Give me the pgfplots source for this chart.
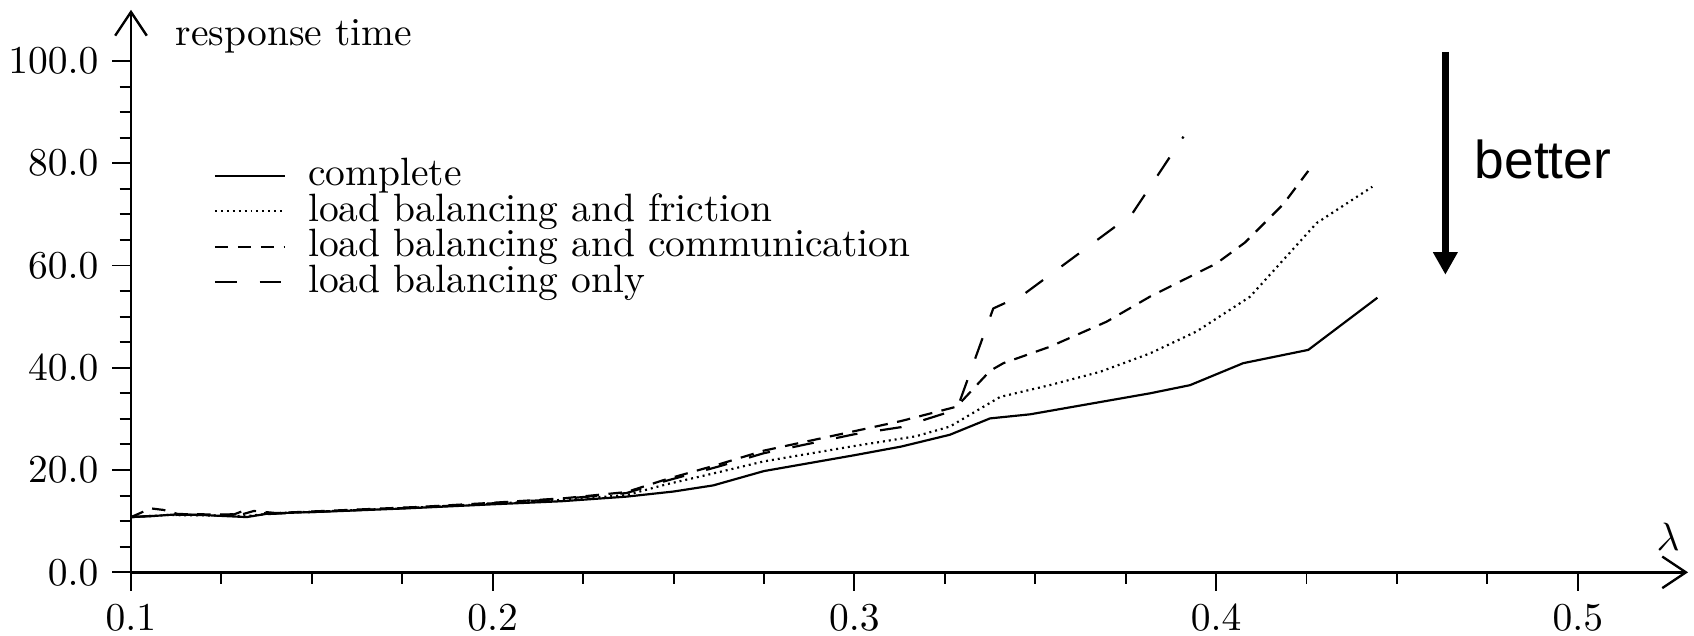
\documentclass[border=0pt]{standalone}
\usepackage{fontspec}
\usepackage{pgfplots}
\usepackage{pgfplotstable}
\pgfplotsset{compat=1.18}
\usetikzlibrary{arrows.meta}
\newfontfamily\arial{Liberation Sans}

\pgfplotstableread{
x y
0.100 10.8
0.106 11.0
0.112 11.3
0.120 11.2
0.126 11.0
0.132 10.8
0.138 11.5
0.155 11.9
0.176 12.5
0.200 13.3
0.219 13.9
0.237 14.8
0.250 15.8
0.261 17.0
0.275 19.8
0.300 22.9
0.313 24.6
0.3264 26.9
0.3375 30.1
0.3486 30.9
0.3817 35.0
0.3928 36.6
0.4075 40.9
0.4255 43.5
0.4446 53.7
}\complete

\pgfplotstableread{
x y
0.100 10.8
0.110 11.2
0.125 11.1
0.132 11.0
0.140 11.6
0.160 12.1
0.180 12.7
0.200 13.4
0.220 14.2
0.237 15.1
0.248 17.2
0.262 19.5
0.275 21.7
0.300 24.7
0.317 26.6
0.3264 28.5
0.3403 34.3
0.354 36.6
0.3679 39.2
0.3817 42.8
0.3946 47.1
0.4094 53.9
0.4186 61.1
0.4278 68.3
0.4432 75.4
}\friction

\pgfplotstableread{
x y
0.100 10.8
0.1055 12.5
0.109 12.2
0.113 11.4
0.125 11.3
0.131 11.4
0.134 12.0
0.140 11.6
0.160 12.2
0.180 12.8
0.200 13.6
0.220 14.5
0.237 15.7
0.248 18.2
0.262 21.0
0.275 23.8
0.300 27.6
0.313 29.6
0.3283 32.4
0.3375 39.4
0.3412 40.9
0.354 44.1
0.3697 49.0
0.3817 53.9
0.391 57.2
0.4001 60.4
0.4080 64.5
0.4186 72.0
0.4255 78.5
}\communication

\pgfplotstableread{
x y
0.100 10.8
0.110 11.2
0.120 11.3
0.128 11.2
0.131 12.0
0.134 12.0
0.138 11.4
0.160 12.1
0.180 12.7
0.200 13.5
0.220 14.4
0.237 15.5
0.248 17.9
0.262 20.6
0.275 23.3
0.300 27.0
0.313 28.4
0.3255 31.2
0.3283 31.8
0.3384 51.6
0.3467 54.3
0.3767 70.0
0.3873 81.3
0.391 85.2
}\only

\begin{document}
\begin{tikzpicture}
\begin{axis}[
  name=ax, at={(0,0)}, anchor=south west,
  scale only axis, width=394.2pt, height=142.4pt,
  xmin=0.1, xmax=0.5305, ymin=0, ymax=110,
  clip=false,
  axis lines=left,
  axis line style={line width=0.7pt, -{Straight Barb[length=6pt,width=8pt,line width=0.6pt]}},
  tick align=outside,
  major tick length=4.7pt, minor tick length=2.9pt,
  every tick/.style={line width=0.5pt, black},
  xtick={0.1,0.2,0.3,0.4,0.5},
  minor xtick={0.125,0.15,0.175,0.225,0.25,0.275,0.325,0.35,0.375,0.425,0.45,0.475},
  ytick={0,20,40,60,80,100},
  minor ytick={5,10,15,25,30,35,45,50,55,65,70,75,85,90,95},
  scaled ticks=false,
  x tick label style={/pgf/number format/fixed, /pgf/number format/precision=1, /pgf/number format/fixed zerofill},
  y tick label style={/pgf/number format/fixed, /pgf/number format/precision=1, /pgf/number format/fixed zerofill},
  legend cell align=left,
  legend style={draw=none, fill=none, at={(axis cs:0.1227,81.2)}, anchor=north west,
    inner sep=0pt, row sep=0pt, column sep=5.6pt,
    nodes={inner sep=0pt, text height=7pt, text depth=2pt}},
  legend image code/.code={\draw[#1] (0pt,0pt) -- (17.7pt,0pt);},
]
\addplot[black, line width=0.55pt] table {\complete};
\addlegendentry{complete}
\addplot[black, line width=0.55pt, dash pattern=on 0.5pt off 1pt] table {\friction};
\addlegendentry{load balancing and friction}
\addplot[black, line width=0.55pt, dash pattern=on 3.4pt off 2.4pt] table {\communication};
\addlegendentry{load balancing and communication}
\addplot[black, line width=0.55pt, dash pattern=on 5.5pt off 5.8pt] table {\only};
\addlegendentry{load balancing only}

\node[anchor=base west, inner sep=0pt] at (axis cs:0.1122,103.1) {response time};
\node[inner sep=0pt] at (axis cs:0.525,6.9) {$\lambda$};
\draw[line width=1.95pt, -{Triangle[width=5.9pt,length=5.7pt]}] (axis cs:0.4634,101.8) -- (axis cs:0.4634,58.2);
\node[anchor=base west, inner sep=0pt, font=\arial\fontsize{13.5}{16}\selectfont] at (axis cs:0.4713,77.1) {better};
\end{axis}
\pgfresetboundingbox
\path ([shift={(-33.16pt,-15.87pt)}]ax.south west) rectangle ++(428.86pt,160.76pt);
\end{tikzpicture}
\end{document}
